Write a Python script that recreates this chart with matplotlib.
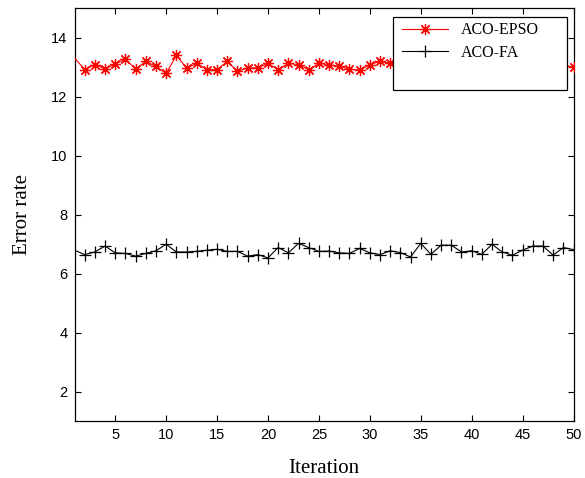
import matplotlib
matplotlib.use("Agg")
import matplotlib.pyplot as plt
from matplotlib.lines import Line2D
from matplotlib.patches import Rectangle

iteration = list(range(1, 51))

aco_epso = [
    13.31, 12.91, 13.08, 12.93, 13.10, 13.27, 12.93, 13.19, 13.02, 12.78,
    13.39, 12.97, 13.12, 12.91, 12.91, 13.19, 12.85, 12.97, 12.97, 13.12,
    12.91, 13.12, 13.08, 12.91, 13.12, 13.08, 13.02, 12.93, 12.89, 13.08,
    13.19, 13.12, 13.05, 13.00, 13.10, 12.95, 13.05, 13.00, 13.10, 12.95,
    13.05, 13.00, 13.10, 12.95, 13.05, 13.00, 13.10, 12.95, 13.05, 13.00,
]

aco_fa = [
    6.79, 6.64, 6.73, 6.93, 6.70, 6.68, 6.59, 6.68, 6.77, 6.99,
    6.73, 6.73, 6.75, 6.79, 6.82, 6.75, 6.75, 6.59, 6.64, 6.53,
    6.88, 6.70, 7.02, 6.88, 6.75, 6.76, 6.70, 6.68, 6.85, 6.70,
    6.64, 6.77, 6.71, 6.56, 7.02, 6.65, 6.96, 6.96, 6.73, 6.77,
    6.65, 6.99, 6.73, 6.62, 6.79, 6.93, 6.93, 6.62, 6.88, 6.81,
]

x_ticks = [5, 10, 15, 20, 25, 30, 35, 40, 45, 50]
y_ticks = [2, 4, 6, 8, 10, 12, 14]

SERIF = ["Liberation Serif", "DejaVu Serif"]
SANS = ["Liberation Sans", "DejaVu Sans"]
ASTERISK = (8, 2, 0)

W, H = 585, 478
AX_L, AX_R, AX_T, AX_B = 74.5, 573.5, 8, 421


def px_to_axes(x, y):
    return (x - AX_L) / (AX_R - AX_L), (AX_B - y) / (AX_B - AX_T)


fig = plt.figure(figsize=(W / 100, H / 100), dpi=100)
ax = fig.add_axes([AX_L / W, 1 - AX_B / H, (AX_R - AX_L) / W, (AX_B - AX_T) / H])

marks = list(range(1, len(iteration)))
ax.plot(iteration, aco_epso, color="#ff0000", linewidth=0.8, marker=ASTERISK,
        markersize=8, markeredgewidth=0.9, markevery=marks, zorder=3)
ax.plot(iteration, aco_fa, color="black", linewidth=0.8, marker="+",
        markersize=9, markeredgewidth=0.9, markevery=marks, zorder=3)

ax.set_xlim(1, 50)
ax.set_ylim(1, 15)
ax.set_xticks(x_ticks)
ax.set_yticks(y_ticks)
ax.tick_params(direction="in", top=True, right=True, length=4, width=0.8,
               labelsize=10.5, pad=5)
for lab in ax.get_xticklabels() + ax.get_yticklabels():
    lab.set_family(SANS)
for sp in ax.spines.values():
    sp.set_linewidth(0.9)

ax.set_xlabel("Iteration", family=SERIF, fontsize=15, labelpad=12)
ax.set_ylabel("Error rate", family=SERIF, fontsize=15, labelpad=14)

# legend box drawn by hand: it is taller than its two entries
bx0, by0 = px_to_axes(393, 90)
bx1, by1 = px_to_axes(567, 17)
ax.add_patch(Rectangle((bx0, by0), bx1 - bx0, by1 - by0, transform=ax.transAxes,
                       facecolor="white", edgecolor="black", linewidth=0.9,
                       zorder=4, clip_on=False))

handles = [
    Line2D([], [], color="#ff0000", linewidth=0.8, marker=ASTERISK, markersize=8,
           markeredgewidth=0.9, label="ACO-EPSO"),
    Line2D([], [], color="black", linewidth=0.8, marker="+", markersize=9,
           markeredgewidth=0.9, label="ACO-FA"),
]
leg = ax.legend(handles=handles, loc="upper left", bbox_to_anchor=px_to_axes(402, 22.5),
                prop={"family": SERIF, "size": 11.5}, frameon=False,
                handlelength=2.85, handletextpad=0.85, borderpad=0.0,
                labelspacing=0.38, borderaxespad=0.0)
leg.set_zorder(5)

fig.savefig("out.png", dpi=100, facecolor="white")
